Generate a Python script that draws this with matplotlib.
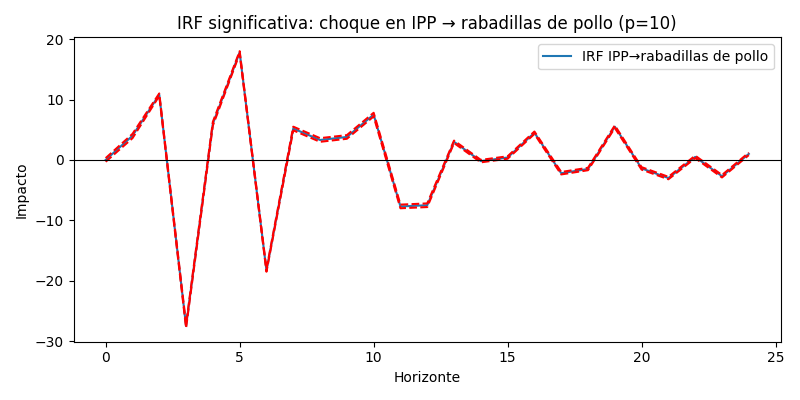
import numpy as np
import matplotlib
matplotlib.use('Agg')
import matplotlib.pyplot as plt

horizons = list(range(25))
irf = [0.0, 4.0, 10.8, -27.5, 6.0, 17.8, -18.3, 5.2, 3.3, 3.8, 7.5, -7.7, -7.5,
       3.0, -0.2, 0.4, 4.5, -2.2, -1.5, 5.5, -1.4, -3.0, 0.5, -2.7, 1.0]
lower = [-0.3, 3.6, 10.6, -27.8, 5.7, 17.6, -18.5, 4.9, 3.0, 3.5, 7.2, -8.0, -7.8,
         2.8, -0.4, 0.2, 4.3, -2.4, -1.7, 5.3, -1.6, -3.2, 0.3, -2.9, 0.8]
upper = [0.3, 4.3, 11.0, -27.2, 6.3, 18.0, -18.1, 5.5, 3.6, 4.1, 7.8, -7.4, -7.2,
         3.2, 0.0, 0.6, 4.7, -2.0, -1.3, 5.7, -1.2, -2.8, 0.7, -2.5, 1.2]

fig, ax = plt.subplots(figsize=(8, 4), dpi=100)
ax.plot(horizons, irf, color='tab:blue', label='IRF IPP→rabadillas de pollo')
ax.plot(horizons, lower, 'r--')
ax.plot(horizons, upper, 'r--')
ax.axhline(0, color='black', linewidth=0.8)
ax.set_title('IRF significativa: choque en IPP → rabadillas de pollo (p=10)')
ax.set_xlabel('Horizonte')
ax.set_ylabel('Impacto')
ax.legend(loc='upper right')
plt.tight_layout()
plt.savefig('out.png', dpi=100)
